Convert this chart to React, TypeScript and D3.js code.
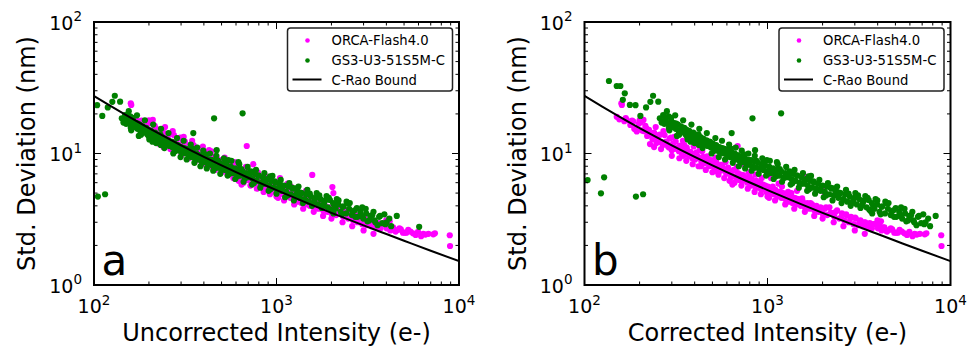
import React from 'react';
import * as d3 from 'd3';

const W = 973;
const H = 348;
const FONT = 'DejaVu Sans, Liberation Sans, sans-serif';

// ORCA-Flash4.0: [intensity (e-), std. deviation (nm)] (same in both panels)
const ORCA_POINTS: number[][] = [
  [150,19.0],[155,18.2],[159,24.1],[160,23.4],[165,17.6],[170,18.0],[178,16.5],[182,17.8],[185,17.5],[190,15.2],
  [193,14.7],[198,16.8],[200,17.9],[205,15.0],[210,14.8],[215,16.2],[218,15.5],[220,13.6],[225,15.1],[228,11.8],
  [230,14.0],[235,12.9],[240,14.4],[240,11.2],[245,13.2],[250,12.5],[255,13.8],[262,12.2],[262,10.8],[268,11.6],
  [274,13.8],[282,11.9],[290,11.1],[292,13.0],[300,10.6],[300,9.6],[305,11.9],[310,10.9],[315,12.3],[320,11.0],
  [328,10.4],[330,9.2],[335,11.5],[340,10.0],[348,10.9],[351,11.6],[358,9.8],[360,8.8],[365,10.5],[372,9.6],
  [380,10.3],[388,9.2],[390,8.3],[395,9.9],[402,9.0],[410,10.2],[418,9.3],[420,8.0],[427,10.6],[435,8.7],
  [442,9.4],[450,8.4],[460,9.1],[460,7.5],[470,8.6],[480,8.0],[490,8.9],[500,8.3],[500,7.2],[512,7.7],
  [525,8.6],[538,7.9],[540,6.9],[550,7.4],[565,8.1],[580,7.6],[580,6.5],[595,7.0],[610,7.8],[620,6.2],
  [625,7.2],[640,6.8],[643,5.8],[655,7.5],[660,6.0],[670,6.6],[687,11.4],[690,7.1],[700,6.3],[715,6.9],
  [720,5.7],[730,6.2],[746,8.3],[760,6.6],[775,6.0],[780,5.4],[790,6.5],[805,5.8],[820,6.4],[840,6.1],
  [850,5.1],[855,5.6],[860,6.9],[870,6.2],[890,5.5],[905,5.9],[920,4.9],[925,5.3],[945,5.8],[965,5.4],
  [985,5.1],[1000,4.7],[1005,5.6],[1020,4.6],[1030,5.0],[1045,6.5],[1055,5.4],[1080,4.9],[1100,4.4],[1105,5.3],
  [1130,4.7],[1160,5.1],[1190,4.6],[1200,5.6],[1220,5.0],[1250,4.5],[1250,4.1],[1280,4.9],[1310,4.3],[1340,4.7],
  [1350,5.0],[1370,4.2],[1400,4.6],[1400,3.8],[1440,4.1],[1480,4.5],[1520,4.0],[1560,4.3],[1570,6.87],[1600,3.9],
  [1600,3.6],[1650,4.2],[1700,3.8],[1750,4.1],[1800,3.7],[1800,3.35],[1850,4.0],[1900,3.6],[1950,3.9],[2000,3.5],
  [2000,3.2],[2024,5.56],[2050,5.0],[2060,3.8],[2120,3.4],[2180,3.9],[2250,3.5],[2300,3.0],[2320,3.3],[2400,3.7],
  [2470,3.2],[2550,3.5],[2600,2.8],[2630,3.1],[2700,3.4],[2780,3.0],[2860,3.3],[2950,2.9],[3000,2.6],[3040,3.2],
  [3130,2.85],[3220,3.1],[3320,2.8],[3400,2.45],[3420,3.0],[3520,2.75],[3620,2.95],[3720,2.7],[3850,2.9],[3990,3.1],
  [4080,2.85],[4170,3.05],[4200,2.6],[4350,2.75],[4500,2.55],[4640,2.63],[4800,2.65],[4930,2.5],[5150,2.5],[5270,2.63],
  [5600,2.47],[5960,2.54],[6200,2.35],[6370,2.45],[6800,2.45],[7230,2.43],[7380,2.47],[8900,2.39],[8930,1.98],
  [168,18.6],[187,15.4],[203,17.3],[227,14.0],[247,12.0],[258,13.9],[279,12.3],[286,11.3],[297,13.2],[313,10.9],
  [332,11.4],[346,9.6],[362,11.1],[377,9.85],[399,9.1],[414,9.5],[433,8.0],[447,9.4],[468,9.5],[485,8.1],
  [506,8.4],[531,7.3],[557,8.2],[572,7.45],[603,7.55],[632,6.6],[664,7.5],[681,6.8],[708,6.3],[737,6.85],
  [768,6.2],[797,6.8],[813,5.7],[846,6.1],[879,5.65],[912,6.05],[938,5.5],[972,5.7],[1012,5.1],[1068,5.6],
  [1117,5.05],[1175,5.1],[1232,4.6],[1296,5.1],[1358,4.55],[1425,4.55],[1497,4.15],[1547,4.55],[1632,4.1],[1718,4.2],
  [1823,3.8],[1932,3.85],[2087,3.9],[2213,3.55],[2361,3.6],[2522,3.25],[2687,3.45],[2834,3.2],[3012,3.25],[3178,2.95],
  [3365,3.0],[3566,2.85],[3777,2.9],[4012,2.7],[4265,2.75],[4433,2.6],[4717,2.7],[5044,2.5],[5423,2.55],[5788,2.4],
  [6541,2.42],
  [210,18.0],[245,15.9],[270,14.8],[310,13.4],[345,12.5],[395,11.3],[440,10.4],[520,9.3],[590,8.6],[680,7.9],
  [790,7.2],[930,6.5],[1150,5.9],[1450,5.2],
];

// GS3-U3-51S5M-C: [uncorrected intensity, corrected intensity, std. deviation (nm)]
const GS3_POINTS: number[][] = [
  [75,136,35.6],[82,150,32.6],[86,157,32.6],[91,166,28.7],[89,162,25.6],[97,177,23.4],[104,190,23.3],[111,202,19.3],
  [119,217,22.4],[126,229,24.7],[130,237,27.5],[139,253,24.8],[57,104,6.28],[70,128,6.59],[68,123,4.98],[105,191,4.70],
  [115,209,4.90],
  [142,258,18.5],[145,264,17.2],[148,269,19.6],[150,273,16.8],[153,278,18.1],[156,284,17.0],[158,288,19.2],[161,293,16.3],
  [164,298,17.6],[167,304,15.9],[170,309,17.0],[173,315,15.4],[176,320,13.6],[178,324,16.6],[182,331,15.0],[185,337,16.1],
  [188,342,14.6],[191,348,15.5],[195,355,14.1],[198,360,15.2],[202,368,13.8],[205,373,14.9],[209,380,12.3],[212,386,13.4],
  [216,393,14.4],[220,400,13.0],[224,408,13.9],[228,415,12.6],[232,422,11.6],[236,430,13.3],[240,437,12.2],[245,446,13.0],
  [250,455,11.8],[255,464,12.6],[260,473,11.4],[265,482,12.3],[270,491,11.1],[276,502,11.9],[282,513,10.8],[288,524,11.6],
  [294,535,10.5],[300,546,11.2],
  [306,557,10.2],[312,568,11.0],[318,579,10.0],[324,590,10.8],[330,601,9.7],[336,612,10.5],[343,624,9.4],[350,637,14.3],
  [350,637,10.2],[357,650,9.2],[364,662,10.0],[371,675,9.0],[378,688,9.7],[386,703,8.8],[394,717,9.5],[402,732,8.6],
  [410,746,9.3],[419,763,8.4],[428,779,9.0],[437,795,8.2],[446,812,8.9],[455,828,18.5],[456,830,8.0],[466,848,8.7],
  [470,855,10.6],[476,866,7.8],[487,886,8.5],[498,906,7.6],[510,928,8.3],[522,950,7.5],[535,974,8.1],[545,992,8.9],
  [548,997,7.3],[562,1023,7.9],[576,1048,7.1],[590,1074,7.7],[605,1101,7.0],[618,1125,8.6],[620,1128,7.5],[636,1158,6.8],
  [652,1187,20.2],[653,1188,7.3],[670,1219,6.6],[688,1252,7.1],
  [706,1285,6.6],[724,1318,7.3],[742,1350,6.4],[760,1383,7.0],[780,1420,6.2],[800,1456,6.8],[820,1492,6.0],[842,1532,6.6],
  [865,1574,5.9],[888,1616,6.4],[912,1660,5.7],[922,1678,6.7],[936,1704,6.2],[960,1747,5.5],[985,1793,6.0],[1010,1838,5.4],
  [1040,1893,5.9],[1070,1947,5.2],[1100,2002,5.7],[1130,2057,5.1],[1160,2111,5.6],[1195,2175,4.9],[1230,2239,5.4],[1263,2299,5.43],
  [1265,2302,4.8],[1300,2366,5.2],[1340,2439,4.6],[1380,2512,5.0],[1420,2584,4.5],[1460,2657,4.9],
  [1500,2730,4.3],[1545,2812,4.7],[1590,2894,4.2],[1640,2985,4.6],[1690,3076,4.1],[1740,3167,4.5],[1795,3267,4.0],[1850,3367,4.4],
  [1910,3476,3.9],[1963,3573,4.43],[1975,3595,3.75],[2040,3713,4.2],[2052,3735,3.5],[2110,3840,3.8],[2180,3968,4.1],[2250,4095,3.6],
  [2330,4241,3.95],[2410,4386,3.5],[2420,4404,4.3],[2500,4550,3.8],[2590,4714,3.4],[2680,4878,3.7],[2780,5060,3.3],[2880,5242,3.6],
  [2990,5442,3.2],[3100,5642,3.5],[3220,5860,3.1],[3350,6097,3.4],[3480,6334,3.0],[3650,6643,3.3],[3800,6916,2.95],[3950,7189,2.9],
  [4150,7553,3.2],[4560,8299,3.35],[6050,11011,2.77],
  [147,268,17.5],[152,277,18.6],[159,289,15.7],[163,297,18.7],[169,308,16.0],[174,317,16.9],[180,328,14.6],[186,339,15.3],
  [193,351,15.7],[199,362,13.6],[207,377,14.4],[214,389,12.6],[222,404,13.3],[231,420,13.9],[238,433,11.9],[247,450,12.5],
  [257,468,11.5],[267,486,12.2],[279,508,10.45],[291,530,10.95],[303,551,10.1],[317,577,10.7],[333,606,9.7],[346,630,10.9],
  [361,657,9.25],[375,683,9.7],[392,713,8.5],[408,743,9.85],[424,772,8.45],[441,803,8.85],[459,835,7.75],[479,872,8.8],
  [501,912,7.7],[527,959,8.55],[553,1006,7.0],[583,1061,7.6],[611,1112,6.7],[641,1167,7.6],[676,1230,6.5],[712,1296,6.75],
  [751,1367,5.95],[793,1443,6.8],[835,1520,5.9],[876,1594,6.2],[927,1687,5.35],[979,1782,6.15],[1025,1866,5.35],[1086,1977,5.65],
  [1148,2089,4.8],[1214,2209,5.5],[1283,2335,4.85],[1352,2461,5.05],[1437,2615,4.45],[1522,2770,4.95],[1612,2934,4.35],[1716,3123,4.8],
  [1823,3318,4.2],[1934,3520,4.6],[2066,3760,4.05],[2187,3980,4.4],[2302,4190,3.95],[2446,4452,4.2],[2611,4752,3.6],[2757,5018,3.85],
  [2923,5320,3.35],[3081,5607,3.8],[3267,5946,3.35],[3445,6270,3.1],[3693,6721,3.35],[4012,7302,3.0],
  [155,282,21.0],[160,291,15.0],[172,313,19.5],[181,329,13.9],[190,346,17.9],[201,366,12.8],[211,384,16.6],[219,399,12.0],
  [233,424,15.4],[243,442,11.0],[256,466,14.3],[272,495,10.0],[285,519,13.1],[298,542,9.4],
  [310,564,12.5],[322,586,9.0],[339,617,11.7],[355,646,8.5],[368,670,11.1],[383,697,8.0],[397,723,10.5],[415,755,7.7],
  [432,786,10.0],[450,819,7.4],[468,852,9.6],[492,895,7.0],[515,937,9.2],[540,983,6.8],[566,1030,8.8],[594,1081,6.4],
  [625,1138,8.3],[660,1201,6.1],[695,1265,7.9],
  [735,1338,5.8],[772,1405,7.5],[815,1483,5.5],[858,1562,7.1],[905,1647,5.2],[950,1729,6.75],[1000,1820,4.95],[1055,1920,6.3],
  [1115,2029,4.65],[1175,2139,5.95],[1245,2266,4.4],[1320,2402,5.6],[1395,2539,4.2],[1475,2685,5.3],
  [1565,2848,4.0],[1660,3021,5.0],[1770,3221,3.85],[1880,3422,4.75],[2010,3658,3.65],[2140,3895,4.5],[2280,4150,3.45],[2520,4586,4.2],
  [2700,4914,3.3],[2950,5369,3.9],[3150,5733,3.05],[3400,6188,3.6],[3580,6516,2.85],[3900,7098,3.45],[4250,7735,2.8],
];

// Cramer-Rao bound: [intensity, std. deviation]
const BOUND_POINTS: number[][] = [
  [100,27.38],[125,22.71],[150,19.57],[200,15.61],[250,13.19],[300,11.54],[400,9.43],[500,8.12],[700,6.54],
  [1000,5.27],[1500,4.16],[2000,3.54],[3000,2.84],[4000,2.44],[5000,2.17],[7000,1.82],[10000,1.52],
];

const X_DOMAIN = [100, 10000];
const Y_DOMAIN = [1, 100];
const X_TICKS = [100, 1000, 10000];
const X_TICK_EXP = ['2', '3', '4'];
const Y_TICKS = [1, 10, 100];
const Y_TICK_EXP = ['0', '1', '2'];

const SERIES_NAMES = ['ORCA-Flash4.0', 'GS3-U3-51S5M-C', 'C-Rao Bound'];
const ORCA_COLOR = '#ff00ff';
const GS3_COLOR = '#008000';

const PANELS = [
  { key: 'a', left: 94, right: 459, xTitle: 'Uncorrected Intensity (e-)', gs3Col: 0 },
  { key: 'b', left: 584.5, right: 950.5, xTitle: 'Corrected Intensity (e-)', gs3Col: 1 },
];
const TOP = 22;
const BOTTOM = 285;

function isDecade(v: number) {
  const l = Math.log10(v);
  return Math.abs(l - Math.round(l)) < 1e-9;
}

function Panel({ p }: { p: typeof PANELS[number] }) {
  const x = d3.scaleLog().domain(X_DOMAIN).range([p.left, p.right]);
  const y = d3.scaleLog().domain(Y_DOMAIN).range([BOTTOM, TOP]);
  const line = d3
    .line<number[]>()
    .x((d) => x(d[0]))
    .y((d) => y(d[1]))
    .curve(d3.curveMonotoneX);
  const xMinor = x.ticks().filter((v) => !isDecade(v));
  const yMinor = y.ticks().filter((v) => !isDecade(v));
  const clipId = `clip-${p.key}`;
  const MAJ = 7;
  const MIN = 3.5;
  const boxLeft = p.right - 171.5;
  const boxTop = 28;

  return (
    <g>
      <defs>
        <clipPath id={clipId}>
          <rect x={p.left} y={TOP} width={p.right - p.left} height={BOTTOM - TOP} />
        </clipPath>
      </defs>
      <g clipPath={`url(#${clipId})`}>
        {ORCA_POINTS.map((d, i) => (
          <circle key={`o${i}`} cx={x(d[0])} cy={y(d[1])} r={3.1} fill={ORCA_COLOR} />
        ))}
        {GS3_POINTS.map((d, i) => (
          <circle key={`g${i}`} cx={x(d[p.gs3Col])} cy={y(d[2])} r={3.1} fill={GS3_COLOR} />
        ))}
        <path d={line(BOUND_POINTS) || ''} fill="none" stroke="#000" strokeWidth={2} />
      </g>
      <g stroke="#000" strokeWidth={1}>
        {X_TICKS.map((v) => (
          <g key={`xt${v}`}>
            <line x1={x(v)} x2={x(v)} y1={BOTTOM} y2={BOTTOM - MAJ} />
            <line x1={x(v)} x2={x(v)} y1={TOP} y2={TOP + MAJ} />
          </g>
        ))}
        {xMinor.map((v) => (
          <g key={`xm${v}`}>
            <line x1={x(v)} x2={x(v)} y1={BOTTOM} y2={BOTTOM - MIN} />
            <line x1={x(v)} x2={x(v)} y1={TOP} y2={TOP + MIN} />
          </g>
        ))}
        {Y_TICKS.map((v) => (
          <g key={`yt${v}`}>
            <line x1={p.left} x2={p.left + MAJ} y1={y(v)} y2={y(v)} />
            <line x1={p.right} x2={p.right - MAJ} y1={y(v)} y2={y(v)} />
          </g>
        ))}
        {yMinor.map((v) => (
          <g key={`ym${v}`}>
            <line x1={p.left} x2={p.left + MIN} y1={y(v)} y2={y(v)} />
            <line x1={p.right} x2={p.right - MIN} y1={y(v)} y2={y(v)} />
          </g>
        ))}
      </g>
      <rect x={p.left} y={TOP} width={p.right - p.left} height={BOTTOM - TOP} fill="none" stroke="#000" strokeWidth={2} />
      {X_TICKS.map((v, i) => (
        <text key={`xl${v}`} x={x(v)} y={313} textAnchor="middle" fontSize={19} fontFamily={FONT} fill="#000">
          10<tspan dy={-8.5} fontSize={13.5}>{X_TICK_EXP[i]}</tspan>
        </text>
      ))}
      {Y_TICKS.map((v, i) => (
        <text key={`yl${v}`} x={p.left - 12} y={y(v) + 7.5} textAnchor="end" fontSize={19} fontFamily={FONT} fill="#000">
          10<tspan dy={-8.5} fontSize={13.5}>{Y_TICK_EXP[i]}</tspan>
        </text>
      ))}
      <text x={(p.left + p.right) / 2} y={340.5} textAnchor="middle" fontSize={24} fontFamily={FONT} fill="#000">
        {p.xTitle}
      </text>
      <text
        transform={`translate(${p.left - 59},${(TOP + BOTTOM) / 2}) rotate(-90)`}
        textAnchor="middle"
        fontSize={24}
        fontFamily={FONT}
        fill="#000"
      >
        Std. Deviation (nm)
      </text>
      <text x={p.left + 7.5} y={275} fontSize={42} fontFamily={FONT} fill="#000">
        {p.key}
      </text>
      <rect x={boxLeft} y={boxTop} width={165} height={63} rx={3} ry={3} fill="#fff" stroke="#222" strokeWidth={1.5} />
      <circle cx={boxLeft + 20} cy={40.5} r={2.3} fill={ORCA_COLOR} />
      <circle cx={boxLeft + 20} cy={60.5} r={2.3} fill={GS3_COLOR} />
      <line x1={boxLeft + 5} x2={boxLeft + 34} y1={79.5} y2={79.5} stroke="#000" strokeWidth={2} />
      {SERIES_NAMES.map((s, i) => (
        <text key={s} x={boxLeft + 44} y={[45, 65, 84.5][i]} fontSize={13.2} fontFamily={FONT} fill="#000">
          {s}
        </text>
      ))}
    </g>
  );
}

export default function App() {
  return (
    <svg
      width={W}
      height={H}
      viewBox={`0 0 ${W} ${H}`}
      style={{ position: 'absolute', left: 0, top: 0, background: '#fff' }}
    >
      <rect width={W} height={H} fill="#fff" />
      {PANELS.map((p) => (
        <Panel key={p.key} p={p} />
      ))}
    </svg>
  );
}
